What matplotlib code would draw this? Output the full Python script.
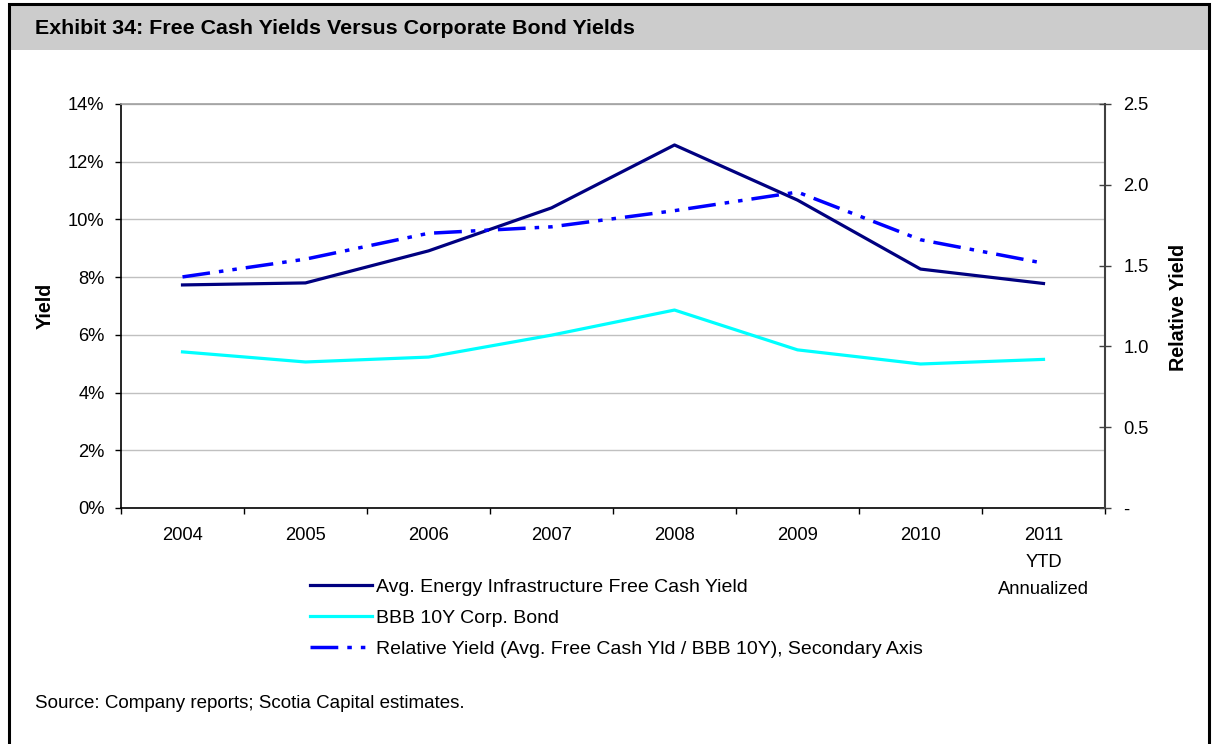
import matplotlib
matplotlib.use("Agg")
import matplotlib.pyplot as plt
from matplotlib.patches import Rectangle
from matplotlib.lines import Line2D

plt.rcParams['font.family'] = ['Liberation Sans', 'DejaVu Sans']

# Data
years = ["2004", "2005", "2006", "2007", "2008", "2009", "2010", "2011\nYTD\nAnnualized"]
free_cash_yield = [7.73, 7.80, 8.91, 10.40, 12.58, 10.67, 8.28, 7.78]   # %
bbb_10y_yield = [5.41, 5.06, 5.23, 5.99, 6.86, 5.48, 4.99, 5.15]       # %
relative_yield = [1.43, 1.54, 1.70, 1.74, 1.84, 1.955, 1.66, 1.515]    # ratio

left_ticks = [0, 2, 4, 6, 8, 10, 12, 14]
right_ticks = [0.0, 0.5, 1.0, 1.5, 2.0, 2.5]
right_labels = ["-", "0.5", "1.0", "1.5", "2.0", "2.5"]

FS = 13.2
W, H = 1214, 744
fig = plt.figure(figsize=(W / 100, H / 100), dpi=100)

# Outer frame and header band
fig.patches.append(Rectangle((10 / W, 1 - 50 / H), 1198 / W, 45 / H,
                             transform=fig.transFigure, facecolor="#CCCCCC",
                             edgecolor="none", zorder=0))
fig.patches.append(Rectangle((9 / W, -0.05), 1200 / W, 1 - 4 / H + 0.05,
                             transform=fig.transFigure, facecolor="none",
                             edgecolor="black", linewidth=2.2, zorder=1))
fig.text(35 / W, 1 - 29 / H, "Exhibit 34: Free Cash Yields Versus Corporate Bond Yields",
         fontsize=15.4, fontweight="bold", va="center", ha="left")

ax = fig.add_axes([121 / W, 1 - 508 / H, (1105 - 121) / W, (508 - 104) / H])
x = list(range(len(years)))

ax.plot(x, free_cash_yield, color="#000080", lw=2.3, zorder=3)
ax.plot(x, bbb_10y_yield, color="#00FFFF", lw=2.3, zorder=3)

ax.set_xlim(-0.5, len(years) - 0.5)
ax.set_ylim(0, 14)
ax.set_yticks(left_ticks)
ax.set_yticklabels([f"{t}%" for t in left_ticks])
ax.yaxis.grid(True, color="#C0C0C0", lw=1)
ax.set_axisbelow(True)

ax.set_xticks(x)
ax.set_xticklabels(years, linespacing=1.76)
ax.set_xticks([i - 0.5 for i in range(len(years) + 1)], minor=True)
ax.tick_params(axis="x", which="major", length=0, pad=13.5, labelsize=FS)
ax.tick_params(axis="x", which="minor", length=4.3, width=1, color="black", direction="out")
ax.tick_params(axis="y", length=4.3, width=1, direction="out", labelsize=FS, pad=7.5)

for side in ("left", "bottom"):
    ax.spines[side].set_color("black")
    ax.spines[side].set_linewidth(1.2)
ax.spines["top"].set_color("#A0A0A0")
ax.spines["top"].set_linewidth(1.2)
ax.spines["right"].set_visible(False)

ax2 = ax.twinx()
ax2.plot(x, relative_yield, color="#0000FF", lw=2.5,
         dashes=(8, 2.6, 1.3, 2.6, 1.3, 2.6), zorder=4)
ax2.set_ylim(0, 2.5)
ax2.set_yticks(right_ticks)
ax2.set_yticklabels(right_labels)
ax2.tick_params(axis="y", length=8.6, width=1, direction="inout", labelsize=FS, pad=9,
                color="#404040")
for side in ("left", "bottom", "top"):
    ax2.spines[side].set_visible(False)
ax2.spines["right"].set_color("#404040")
ax2.spines["right"].set_linewidth(1.5)

fig.text(45 / W, 1 - 306 / H, "Yield", rotation=90, fontsize=14.2, fontweight="bold",
         ha="center", va="center")
fig.text(1178 / W, 1 - 307 / H, "Relative Yield", rotation=90, fontsize=14.2,
         fontweight="bold", ha="center", va="center")

handles = [
    Line2D([], [], color="#000080", lw=2.3),
    Line2D([], [], color="#00FFFF", lw=2.3),
    Line2D([], [], color="#0000FF", lw=2.5, dashes=(8, 2.6, 1.3, 2.6, 1.3, 2.6)),
]
labels = [
    "Avg. Energy Infrastructure Free Cash Yield",
    "BBB 10Y Corp. Bond",
    "Relative Yield (Avg. Free Cash Yld / BBB 10Y), Secondary Axis",
]
fig.legend(handles, labels, loc="upper left", bbox_to_anchor=(310 / W, 1 - 578 / H),
           frameon=False, fontsize=14, handlelength=3.2, handletextpad=0.2,
           labelspacing=0.7, borderpad=0, borderaxespad=0)

fig.text(35 / W, 1 - 703 / H, "Source: Company reports; Scotia Capital estimates.",
         fontsize=13.5, ha="left", va="center")

fig.savefig("out.png", dpi=100)
